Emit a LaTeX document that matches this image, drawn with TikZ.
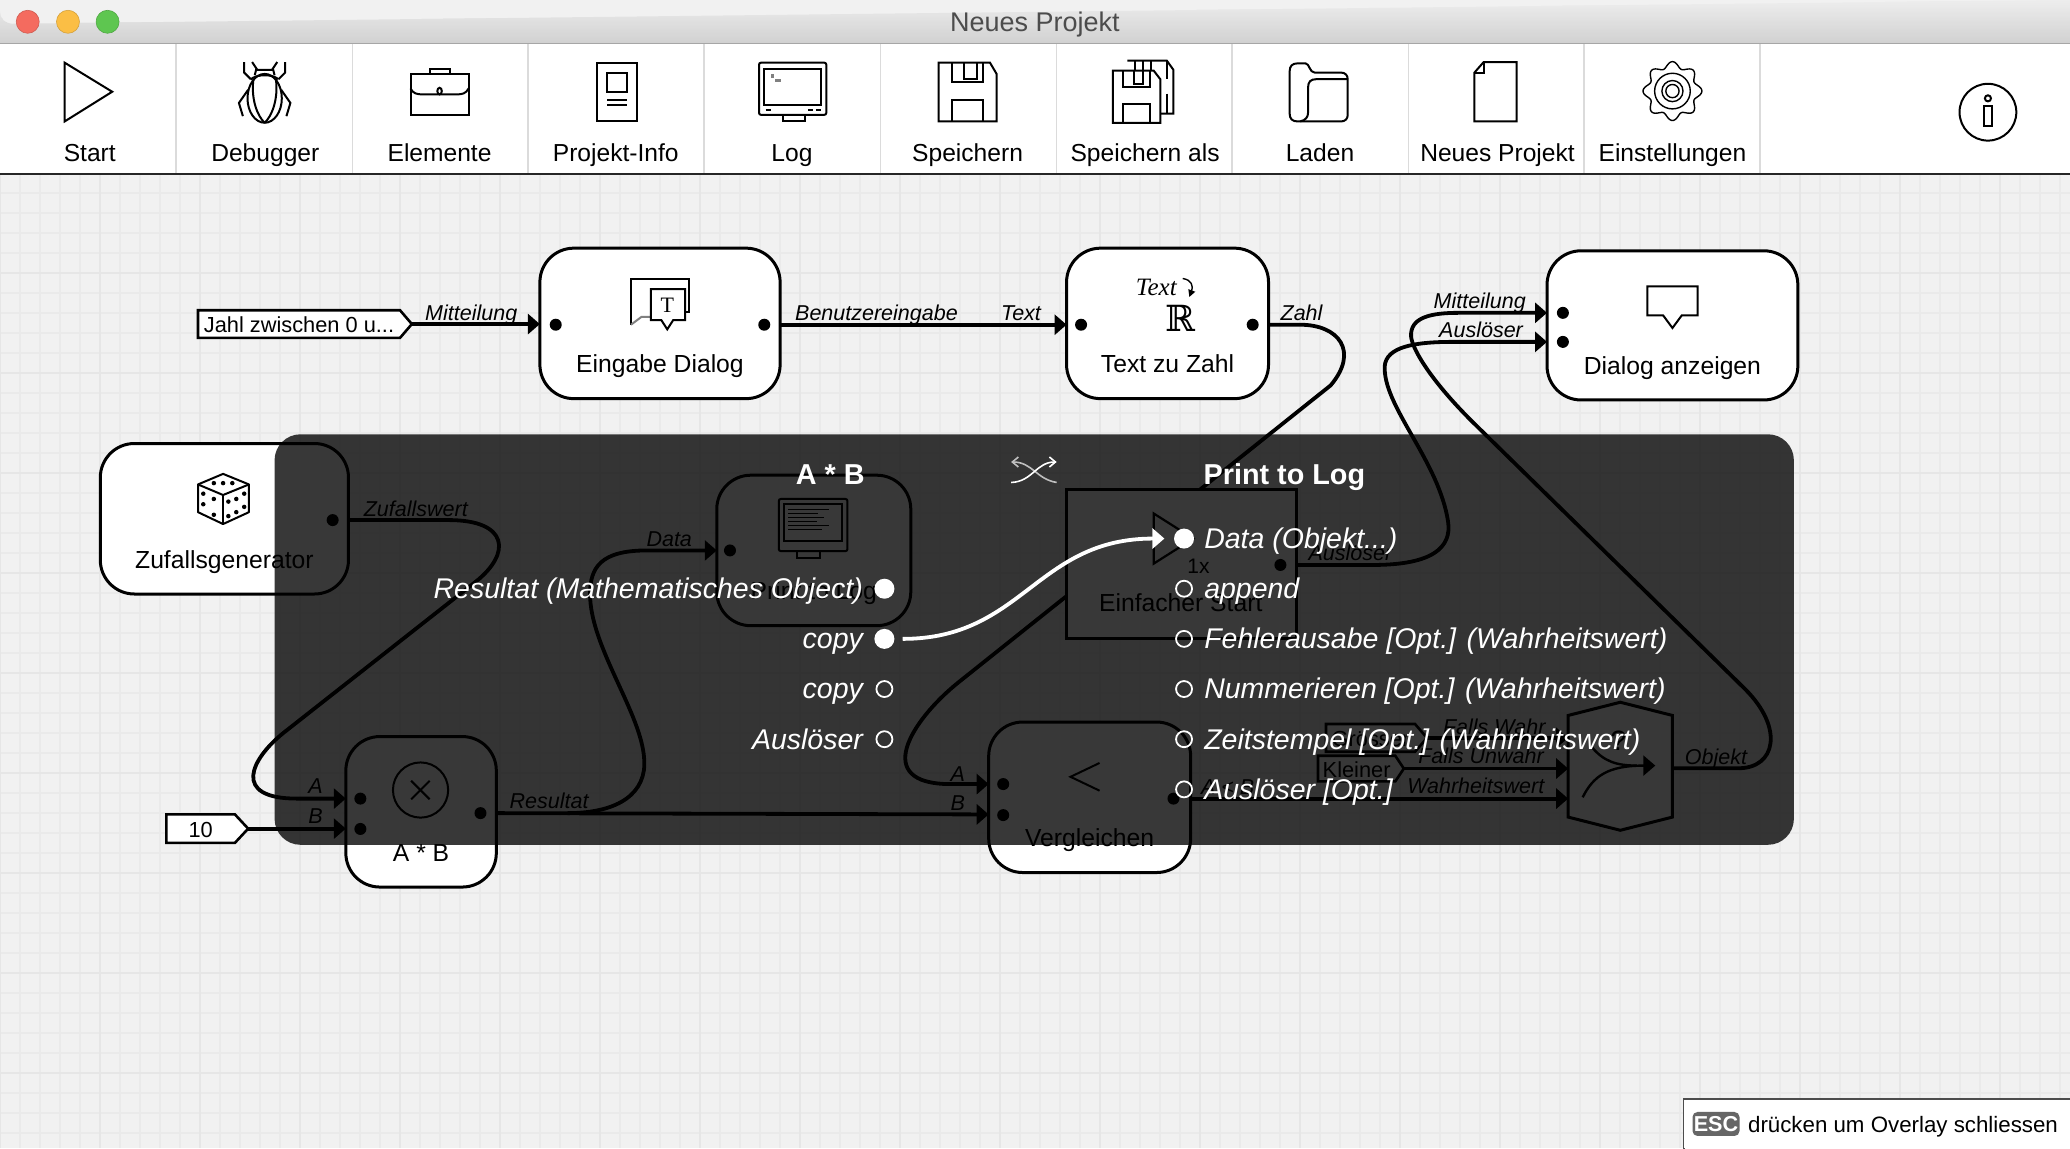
\documentclass[tikz,border=0pt]{standalone}
\usepackage{fontspec}
\setmainfont{Liberation Sans}
\newfontfamily\djv{DejaVu Serif}
\newfontfamily\lserif{Liberation Serif}
\usetikzlibrary{arrows.meta,calc}
\pgfdeclarelayer{gridlayer}
\pgfdeclarelayer{wirelayer}
\pgfsetlayers{gridlayer,wirelayer,main}
\definecolor{bgc}{HTML}{F1F1F1}
\definecolor{gmin}{HTML}{EAEAEA}
\definecolor{gmaj}{HTML}{E6E6E6}
\definecolor{lred}{HTML}{F46B5F}
\definecolor{lyel}{HTML}{FBBE45}
\definecolor{lgrn}{HTML}{5EC650}
\tikzset{
  boxnode/.style={draw=black,line width=1.5pt,fill=white,rounded corners=17pt,inner sep=0pt,outer sep=0pt},
  nl/.style={font=\fontsize{12.35}{14}\selectfont,anchor=base,inner sep=0pt},
  tb/.style={font=\fontsize{12.3}{14}\selectfont,anchor=base,inner sep=0pt},
  wl/.style={font=\fontsize{10.75}{13}\selectfont\itshape,anchor=base,inner sep=0pt},
  wire/.style={draw=black,line width=1.9pt},
  awire/.style={wire,-{Triangle[length=6pt,width=10pt]}},
  wthin/.style={draw=black,line width=1.2pt},
  ic/.style={draw=black,line width=1pt,line join=miter},
  dot/.style={circle,fill=black,inner sep=0pt,minimum size=6pt},
  ov/.style={font=\fontsize{14.25}{17}\selectfont\itshape,text=white,inner sep=0pt},
  ovt/.style={font=\fontsize{14.4}{17}\selectfont\bfseries,text=white,inner sep=0pt,anchor=base},
  pon/.style={circle,fill=white,inner sep=0pt,minimum size=10pt},
  poff/.style={circle,draw=white,line width=.9pt,inner sep=0pt,minimum size=8pt},
}
\newcommand\blk[7]{%
  \node[boxnode,minimum width={(#4-#2)*0.66pt},minimum height={(#5-#3)*0.66pt}] (#1) at ({(#2+#4)/2},{(#3+#5)/2}) {};
  \node[nl] (#1-l) at ({(#2+#4)/2},#6) {#7};
}
\newcommand\konst[7]{%
  \draw[draw=black,line width=1.3pt,fill=white] (#2,#5)--(#3,#5)--(#4,{(#5+#6)/2})--(#3,#6)--(#2,#6)--cycle;
  \node[inner sep=0pt,outer sep=0pt,minimum width={(#4-#2)*0.66pt},minimum height={(#6-#5)*0.66pt}] (#1) at ({(#2+#4)/2},{(#5+#6)/2}) {};
  \node[font=\fontsize{10.9}{13}\selectfont,inner sep=0pt] (#1-t) at ({(#2+#3)/2},{(#5+#6)/2+.7}) {#7};
}
\begin{document}
\begin{tikzpicture}[x=0.66pt,y=-0.66pt]
\useasboundingbox (0,0) rectangle (1568.18,869.7);
% ---------- canvas
\begin{pgfonlayer}{gridlayer}
\fill[bgc] (0,0) rectangle (1568.18,869.7);
\foreach \i in {0,...,103} \draw[gmin,line width=.9pt] (\i*10pt,-86pt) -- (\i*10pt,-574pt);
\foreach \i in {0,...,49} \draw[gmin,line width=.9pt] (0pt,-86.5pt-\i*10pt) -- (1035pt,-86.5pt-\i*10pt);
\foreach \i in {0,...,20} \draw[gmaj,line width=1.4pt] (\i*50pt,-86pt) -- (\i*50pt,-574pt);
\foreach \i in {0,...,9} \draw[gmaj,line width=1.4pt] (0pt,-86.5pt-\i*50pt) -- (1035pt,-86.5pt-\i*50pt);
\end{pgfonlayer}
% ---------- title bar and toolbar
\begin{scope}
\clip (0,34) -- (0,9) arc[start angle=180,end angle=90,radius=9] -- (1559,0) arc[start angle=90,end angle=0,radius=9] -- (1568.18,34) -- cycle;
\foreach \i in {0,...,33} {
  \pgfmathsetmacro\shade{7+.34*\i}
  \fill[black!\shade] (0,\i) rectangle (1568.18,\i+1.2);
}
\end{scope}
\draw[gray!70,line width=.6pt] (0,33) -- (1568.18,33);
\fill[white] (0,33.5) rectangle (1568.18,131);
\node[font=\fontsize{13.5}{15}\selectfont,text=black!70,inner sep=0pt] (title) at (784,18.5) {Neues Projekt};
\node[circle,fill=lred,draw=lred!85!black,line width=.3pt,minimum size=11.5pt,inner sep=0pt] (bclose) at (21,16.5) {};
\node[circle,fill=lyel,draw=lyel!85!black,line width=.3pt,minimum size=11.5pt,inner sep=0pt] (bmin) at (51.5,16.5) {};
\node[circle,fill=lgrn,draw=lgrn!85!black,line width=.3pt,minimum size=11.5pt,inner sep=0pt] (bmax) at (81.5,16.5) {};
\foreach \x in {133.5,267,400,533.5,667,800.5,933.5,1067,1200,1333.5} \draw[gray!28,line width=.8pt] (\x,33.5) -- (\x,131);
\draw[black!85,line width=1.1pt] (0,131.8) -- (1568.18,131.8);
\node[tb] (t1) at (68,122) {Start};
\node[tb] (t2) at (201,122) {Debugger};
\node[tb] (t3) at (333,122) {Elemente};
\node[tb] (t4) at (466.5,122) {Projekt-Info};
\node[tb] (t5) at (600,122) {Log};
\node[tb] (t6) at (733,122) {Speichern};
\node[tb] (t7) at (867.5,122) {Speichern als};
\node[tb] (t8) at (1000,122) {Laden};
\node[tb] (t9) at (1134.5,122) {Neues Projekt};
\node[tb] (t10) at (1267,122) {Einstellungen};
% start
\draw[ic] (49,47.5) -- (85,69.5) -- (49,92) -- cycle;
% bug
\draw[ic,fill=white] (200.5,74.5) ellipse (13 and 18.5);
\draw[ic] (190,60) .. controls (195,56) and (206,56) .. (211,60);
\draw[ic] (193,57) -- (194,53) -- (207,53) -- (208,57);
\draw[ic] (195,53) -- (191,47); \draw[ic] (206,53) -- (210,47);
\draw[ic] (190,60) -- (185,55) -- (185,47); \draw[ic] (211,60) -- (216,55) -- (216,47);
\draw[ic] (188,68) -- (181,78) -- (184,88); \draw[ic] (213,68) -- (220,78) -- (217,88);
\draw[ic] (192,60) .. controls (190,75) and (195,88) .. (200.5,93);
\draw[ic] (209,60) .. controls (211,75) and (206,88) .. (200.5,93);
% briefcase
\draw[ic] (311,56) rectangle (355,87);
\draw[ic] (326,56) -- (326,52.5) -- (341,52.5) -- (341,56);
\draw[ic] (311,67) .. controls (313,71) and (316,71.5) .. (320,71.5) -- (346,71.5) .. controls (350,71.5) and (353,71) .. (355,67);
\draw[ic,fill=white] (333,69) ellipse (1.7 and 2.5);
% project info
\draw[ic] (452,47.5) rectangle (482.5,91.5);
\draw[ic] (460,55) rectangle (475,70);
\draw[ic] (460,76) -- (475,76); \draw[ic] (460,79.5) -- (475,79.5);
% log monitor
\draw[ic,rounded corners=1pt] (575,47.5) rectangle (626,87);
\draw[ic] (579,52) rectangle (622,79.5);
\draw[ic] (593,87) rectangle (610,92);
\draw[ic] (580,83.5) -- (584,83.5); \draw[ic] (612,83.5) -- (616,83.5); \draw[ic] (618,83.5) -- (622,83.5);
\fill[gray] (584,56) rectangle (586,59); \fill[gray] (587,59.5) rectangle (592,62);
% save
\draw[ic] (711,47.5) -- (750,47.5) -- (755,56) -- (755,92) -- (711,92) -- cycle;
\draw[ic] (721,47.5) -- (721,62.5) -- (745,62.5) -- (745,47.5);
\draw[ic] (730,47.5) -- (730,59.5) -- (740,59.5) -- (740,47.5);
\draw[ic] (721,92) -- (721,76) -- (745,76) -- (745,92);
% save as
\draw[ic] (854,46) -- (884,46) -- (889,53) -- (889,86) -- (878,86);
\draw[ic] (860,46) -- (860,53); \draw[ic] (866,46) -- (866,53); \draw[ic] (872,46) -- (872,53);
\draw[ic] (884,46) -- (884,60); \draw[ic] (884,71) -- (884,86);
\draw[ic,fill=white] (843,53.5) -- (874,53.5) -- (879,60) -- (879,93) -- (843,93) -- cycle;
\draw[ic] (851,53.5) -- (851,66) -- (871,66) -- (871,53.5);
\draw[ic] (859,53.5) -- (859,63.5) -- (866,63.5) -- (866,53.5);
\draw[ic] (851,93) -- (851,79) -- (871,79) -- (871,93);
% folder
\draw[ic] (977,54) .. controls (977,50) and (979,48) .. (983,48) -- (989,48) .. controls (992,48) and (992,55) .. (996,55) -- (1016,55) .. controls (1019,55) and (1021,57) .. (1021,60) -- (1021,87) .. controls (1021,90) and (1019,92) .. (1016,92) -- (983,92) .. controls (979,92) and (977,90) .. (977,86) -- cycle;
\draw[ic] (1021,60) -- (997,60) .. controls (993,60) and (991,62) .. (991,66) -- (991,85) .. controls (991,89) and (989,91) .. (985,92);
% new
\draw[ic] (1124,47) -- (1149,47) -- (1149,92) -- (1117,92) -- (1117,55) -- cycle;
\draw[ic] (1124,47) -- (1124,55) -- (1117,55);
% gear
\draw[ic,line width=.7pt] plot[domain=0:360,samples=145,smooth] ({1267+(20+2.3*cos(8*\x))*cos(\x)},{69+(20+2.3*cos(8*\x))*sin(\x)});
\draw[ic,line width=.7pt] (1267,69) circle (13.5);
\draw[ic,line width=.7pt] (1267,69) circle (8);
\draw[ic,line width=.7pt] (1267,69) circle (5);
% info
\node[circle,draw=black,line width=1pt,minimum size=28.4pt,inner sep=0pt] (info) at (1506,85) {};
\draw[ic] (1506,74.5) circle (2.3);
\draw[ic] (1503,80) rectangle (1509,95.5);
% ---------- blocks
\blk{dlg}{409}{188}{591}{302}{282.3}{Eingabe Dialog}
\blk{txt}{808}{188}{961}{302}{282.3}{Text zu Zahl}
\blk{show}{1172}{190}{1362}{303}{284}{Dialog anzeigen}
\blk{rnd}{76}{336}{264}{450}{430.5}{Zufallsgenerator}
\blk{mul}{262}{558}{376}{672}{652.5}{A * B}
\blk{prn}{543}{360}{690}{474}{454}{Print to Log}
\blk{cmp}{749}{547}{902}{661}{641.5}{Vergleichen}
\node[draw=black,line width=1.5pt,fill=white,inner sep=0pt,outer sep=0pt,minimum width={174*0.66pt},minimum height={113*0.66pt}] (st) at (895,427.5) {};
\node[nl] (st-l) at (894.5,463.5) {Einfacher Start};
% hexagon
\node[inner sep=0pt,outer sep=0pt,minimum width={79*0.66pt},minimum height={97*0.66pt}] (hex) at (1227.5,580.5) {};
\draw[draw=black,line width=1.5pt,fill=white] (1188,542) -- (1227.5,532) -- (1267,542) -- (1267,619) -- (1227.5,629) -- (1188,619) -- cycle;
\node[font=\fontsize{14}{16}\selectfont,inner sep=0pt] (hexq) at (1226,561) {?};
\draw[wthin] (1206,566) .. controls (1215,577) and (1225,580) .. (1240,580);
\draw[wthin,-{Triangle[length=6pt,width=10pt]}] (1199,604) .. controls (1207,588) and (1218,580) .. (1254,580);
% constants
\konst{cJahl}{150}{303}{312}{235}{256}{Jahl zwischen 0 u...}
\konst{cTen}{126}{178}{188}{617}{638.5}{10}
\konst{cGr}{1004.5}{1072}{1081}{548.5}{569.5}{Grösser}
\konst{cKl}{998.5}{1057}{1063.5}{572.5}{592}{Kleiner}
% icons inside blocks
\draw[ic,fill=white] (478,246) -- (478,211) -- (522,211) -- (522,236) -- (519,236);
\draw[ic,gray] (478,246) -- (486,240) -- (493,240);
\draw[ic,fill=white] (493,219) -- (519,219) -- (519,242.5) -- (510,242.5) -- (505.5,249.5) -- (501,242.5) -- (493,242.5) -- cycle;
\node[font=\fontsize{11}{13}\selectfont\lserif,inner sep=0pt] (dlgT) at (505.5,231) {T};
\draw[ic,fill=white] (1248,217) -- (1286,217) -- (1286,239) -- (1274,239) -- (1267,248.5) -- (1260,239) -- (1248,239) -- cycle;
\node[font=\fontsize{12.5}{14}\selectfont\itshape\lserif,inner sep=0pt] (tTxt) at (876,218) {Text};
\draw[line width=.7pt,-{Triangle[length=3.5pt,width=3.5pt]}] (896,211) .. controls (903,212) and (904,217) .. (901,225);
\node[font=\fontsize{18}{20}\selectfont\djv,inner sep=0pt] (tR) at (894.5,241) {ℝ};
% dice
\draw[ic,line width=1pt,line join=round] (169,359) -- (188.6,367) -- (188.6,388) -- (169,397) -- (150,388) -- (150,367) -- cycle;
\draw[ic,line width=1pt] (150,367) -- (169,375) -- (188.6,367); \draw[ic,line width=1pt] (169,375) -- (169,397);
\foreach \x/\y in {162/366,169/366,176/366,154/374,154/382,162/378,162/390,173/380,173/391,179/378,179/388,185/374,185/384} \fill (\x,\y) circle (1.7);
% multiply
\node[circle,draw=black,line width=1pt,minimum size=27.6pt,inner sep=0pt] (mulc) at (318.6,598.5) {};
\draw[ic] (311.5,591.5) -- (325.5,605.5); \draw[ic] (325.5,591.5) -- (311.5,605.5);
% print monitor
\draw[ic,rounded corners=1pt] (590,378) rectangle (642,417.5);
\draw[ic] (594,382) rectangle (638,410);
\draw[ic] (604,417.5) rectangle (621,422.5);
\foreach \y/\e in {386/628,389/620,392/624,395/619,398/628,401/623} \draw[line width=.6pt] (597,\y) -- (\e,\y);
% compare glyph
\draw[ic] (833,578) -- (811,588.5) -- (833,599);
% start triangle icon
\draw[ic,line width=1.1pt] (874,389) -- (904,408) -- (874,427) -- cycle;
\node[font=\fontsize{10.5}{12}\selectfont,inner sep=0pt] (st1x) at (908,429) {1x};
% port dots
\foreach \i/\x/\y in {1/421/246,2/579/246,3/819/246,4/949/246,5/1184/237,6/1184/259,7/252/394,8/273/605,9/273/628,10/364/616,11/553/417,12/970/428,13/760/594,14/760/617.5,15/889/605} \node[dot] (d\i) at (\x,\y) {};
% ---------- wires
\begin{pgfonlayer}{wirelayer}
\draw[awire] (cJahl.east) -- (dlg.west |- cJahl.east);
\draw[awire] (dlg.east |- 0,246) -- (txt.west |- 0,246);
\draw[awire] (cTen.east) -- (mul.west |- cTen.east);
\draw[awire] (cGr.east) -- (hex.west |- cGr.east);
\draw[awire] (cKl.east) -- (hex.west |- cKl.east);
\draw[awire] (cmp.east |- 0,605) -- (hex.west |- 0,605);
\draw[awire] (mul.east |- 0,616) -- (cmp.west |- 0,617);
\draw[awire] (txt.east |- 0,246) -- (985,246) .. controls (1014,246) and (1030,266) .. (1008,292) -- (726,517) .. controls (690,546) and (660,594) .. (720,594) -- (cmp.west |- 0,594);
\draw[awire] (rnd.east |- 0,394) -- (340,394) .. controls (385,394) and (388,419) .. (360,441) -- (215,555) .. controls (190,575) and (175,605) .. (225,605) -- (mul.west |- 0,605);
\draw[awire] (430,616) .. controls (470,616) and (490,600) .. (488,575) .. controls (486,540) and (447,490) .. (447,450) .. controls (447,430) and (455,417) .. (490,417) -- (prn.west |- 0,417);
\draw[awire] (st.east |- 0,428) -- (1040,428) .. controls (1085,428) and (1100,415) .. (1097,395) .. controls (1090,350) and (1050,310) .. (1049,280) .. controls (1048,265) and (1065,259) .. (1100,259) -- (show.west |- 0,259);
\draw[awire] (hex.east |- 0,582) -- (1317,582) .. controls (1345,582) and (1352,552) .. (1322,522) -- (1119,323) .. controls (1085,290) and (1070,265) .. (1069,255) .. controls (1068,240) and (1085,237) .. (1105,237) -- (show.west |- 0,237);
\end{pgfonlayer}
% wire labels
\node[wl] (w1) at (357,243) {Mitteilung};
\node[wl] (w2) at (664,243) {Benutzereingabe};
\node[wl] (w3) at (773.5,243) {Text};
\node[wl] (w4) at (986,243) {Zahl};
\node[wl] (w5) at (1121,234) {Mitteilung};
\node[wl] (w6) at (1122,256) {Auslöser};
\node[wl] (w7) at (315,391.5) {Zufallswert};
\node[wl] (w8) at (507,414) {Data};
\node[wl] (w9) at (1023,424.5) {Auslöser};
\node[wl] (w10) at (239,601.5) {A};
\node[wl] (w11) at (239,624) {B};
\node[wl] (w12) at (416,612.5) {Resultat};
\node[wl] (w13) at (725.5,592) {A};
\node[wl] (w14) at (725.5,614) {B};
\node[wl] (w15) at (930,602) {A < B};
\node[wl] (w16) at (1132,556.5) {Falls Wahr};
\node[wl] (w17) at (1122,578.5) {Falls Unwahr};
\node[wl] (w18) at (1118,601.5) {Wahrheitswert};
\node[wl] (w19) at (1300,579.5) {Objekt};
% ---------- overlay
\fill[black,opacity=.78,rounded corners=13pt] (208,329) rectangle (1359,640);
\node[ovt] (o1) at (629,367) {A * B};
\node[ovt] (o2) at (973,367) {Print to Log};
\draw[white!75!black,line width=.8pt,-{Straight Barb[length=3pt,width=5pt]}] (800.5,365.5) .. controls (785,363) and (782,350) .. (766,350);
\draw[white,line width=.8pt,-{Straight Barb[length=3pt,width=5pt]}] (766,365.5) .. controls (782,365) and (785,350) .. (800.5,350);
\foreach \i/\t/\y in {a/{Resultat (Mathematisches Object)}/453.5,b/copy/491.5,c/copy/529.5,d/Auslöser/567.5} \node[ov,anchor=base east] (l\i) at (654,\y) {\t};
\foreach \i/\t/\y in {a/{Data (Objekt...)}/415.5,b/append/453.5,c/{Fehlerausabe [Opt.] (Wahrheitswert)}/491.5,d/{Nummerieren [Opt.] (Wahrheitswert)}/529.5,e/{Zeitstempel [Opt.] (Wahrheitswert)}/567.5,f/{Auslöser [Opt.]}/605.5} \node[ov,anchor=base west] (r\i) at (912,\y) {\t};
\node[pon] (pl1) at (670,446) {};
\node[pon] (pl2) at (670,484) {};
\node[poff] (pl3) at (670,522) {};
\node[poff] (pl4) at (670,560) {};
\node[pon] (pr1) at (897,408) {};
\node[poff] (pr2) at (897,446) {};
\node[poff] (pr3) at (897,484) {};
\node[poff] (pr4) at (897,522) {};
\node[poff] (pr5) at (897,560) {};
\node[poff] (pr6) at (897,598) {};
\draw[white,line width=1.9pt,-{Triangle[length=6pt,width=10pt]}] ($(pl2.east)+(6,0)$) .. controls (775,484) and (785,408) .. ($(pr1.west)+(-7,0)$);
% ---------- ESC panel
\draw[draw=black!70,line width=.9pt] (1275.5,870.5) -- (1275.5,832.5) -- (1569,832.5);
\fill[white] (1276,833) rectangle (1568.18,869.7);
\node[fill=black!60,text=white,font=\fontsize{10.8}{13}\selectfont\bfseries,rounded corners=2.5pt,inner xsep=.6pt,inner ysep=1pt,minimum width=23.5pt,minimum height=12pt] (esc) at (1300,851.5) {ESC};
\node[font=\fontsize{11.15}{14}\selectfont,anchor=base west,inner sep=0pt] (esct) at (1324,858) {drücken um Overlay schliessen};
\end{tikzpicture}
\end{document}
